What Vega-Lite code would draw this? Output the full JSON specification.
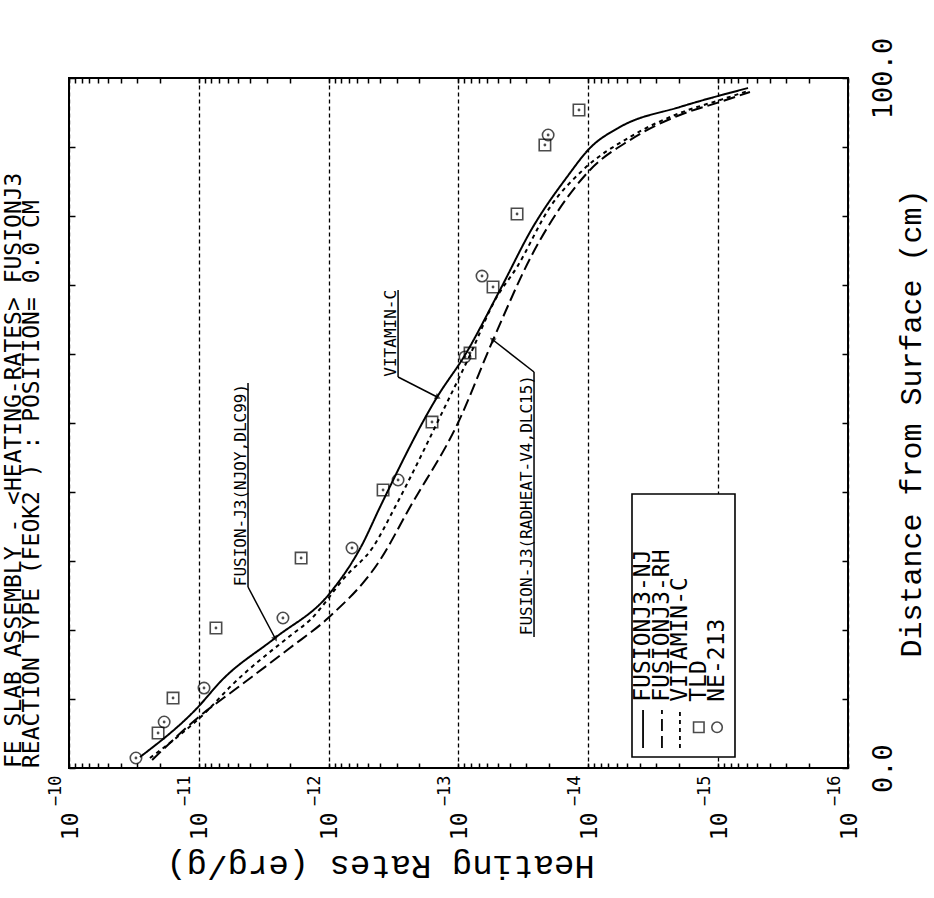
{
  "$schema": "https://vega.github.io/schema/vega-lite/v6.json",
  "autosize": "none",
  "width": 779,
  "height": 690,
  "padding": {"left": 69, "top": 78, "right": 86, "bottom": 130},
  "background": "white",
  "title": {
    "text": ["FE SLAB ASSEMBLY - <HEATING-RATES> FUSIONJ3", " REACTION TYPE (FEOK2 ) : POSITION=   0.0 CM"],
    "orient": "left", "anchor": "start", "frame": "group", "font": "DejaVu Sans Mono", "fontSize": 23,
    "fontWeight": "normal", "lineHeight": 18, "offset": 2, "color": "black"
  },
  "config": {
    "view": {"stroke": "black", "strokeWidth": 2},
    "axis": {"domain": false, "tickColor": "black", "labelColor": "black", "titleColor": "black"}
  },
  "datasets": {
    "curves": [
      {"s": "FUSIONJ3-NJ", "H": 2.84e-11, "d": 1.59},
      {"s": "FUSIONJ3-NJ", "H": 1.03e-11, "d": 8.7},
      {"s": "FUSIONJ3-NJ", "H": 6.63e-12, "d": 12.75},
      {"s": "FUSIONJ3-NJ", "H": 2.59e-12, "d": 18.84},
      {"s": "FUSIONJ3-NJ", "H": 9.77e-13, "d": 25.36},
      {"s": "FUSIONJ3-NJ", "H": 5.54e-13, "d": 32.32},
      {"s": "FUSIONJ3-NJ", "H": 4.02e-13, "d": 37.83},
      {"s": "FUSIONJ3-NJ", "H": 1.46e-13, "d": 53.77},
      {"s": "FUSIONJ3-NJ", "H": 8.91e-14, "d": 59.86},
      {"s": "FUSIONJ3-NJ", "H": 4.79e-14, "d": 69.28},
      {"s": "FUSIONJ3-NJ", "H": 2.67e-14, "d": 78.41},
      {"s": "FUSIONJ3-NJ", "H": 1.46e-14, "d": 85.65},
      {"s": "FUSIONJ3-NJ", "H": 9.71e-15, "d": 89.86},
      {"s": "FUSIONJ3-NJ", "H": 5.70e-15, "d": 92.9},
      {"s": "FUSIONJ3-NJ", "H": 1.97e-15, "d": 95.8},
      {"s": "FUSIONJ3-NJ", "H": 5.89e-16, "d": 98.55},
      {"s": "VITAMIN-C", "H": 2.38e-11, "d": 1.45},
      {"s": "VITAMIN-C", "H": 8.81e-12, "d": 8.12},
      {"s": "VITAMIN-C", "H": 5.55e-12, "d": 12.03},
      {"s": "VITAMIN-C", "H": 1.99e-12, "d": 19.13},
      {"s": "VITAMIN-C", "H": 1.39e-12, "d": 21.45},
      {"s": "VITAMIN-C", "H": 7.48e-13, "d": 27.68},
      {"s": "VITAMIN-C", "H": 4.55e-13, "d": 32.03},
      {"s": "VITAMIN-C", "H": 3.08e-13, "d": 37.83},
      {"s": "VITAMIN-C", "H": 1.20e-13, "d": 53.33},
      {"s": "VITAMIN-C", "H": 8.15e-14, "d": 59.86},
      {"s": "VITAMIN-C", "H": 5.23e-14, "d": 67.83},
      {"s": "VITAMIN-C", "H": 3.54e-14, "d": 72.61},
      {"s": "VITAMIN-C", "H": 1.97e-14, "d": 81.3},
      {"s": "VITAMIN-C", "H": 1.10e-14, "d": 86.67},
      {"s": "VITAMIN-C", "H": 4.78e-15, "d": 91.45},
      {"s": "VITAMIN-C", "H": 1.97e-15, "d": 94.93},
      {"s": "VITAMIN-C", "H": 9.68e-16, "d": 96.81},
      {"s": "VITAMIN-C", "H": 5.89e-16, "d": 98.12},
      {"s": "FUSIONJ3-RH", "H": 2.29e-11, "d": 1.16},
      {"s": "FUSIONJ3-RH", "H": 9.80e-12, "d": 7.54},
      {"s": "FUSIONJ3-RH", "H": 5.08e-12, "d": 11.59},
      {"s": "FUSIONJ3-RH", "H": 1.99e-12, "d": 17.39},
      {"s": "FUSIONJ3-RH", "H": 1.01e-12, "d": 21.74},
      {"s": "FUSIONJ3-RH", "H": 4.02e-13, "d": 30.14},
      {"s": "FUSIONJ3-RH", "H": 2.36e-13, "d": 37.83},
      {"s": "FUSIONJ3-RH", "H": 1.01e-13, "d": 50.0},
      {"s": "FUSIONJ3-RH", "H": 5.42e-14, "d": 62.03},
      {"s": "FUSIONJ3-RH", "H": 2.67e-14, "d": 74.64},
      {"s": "FUSIONJ3-RH", "H": 1.46e-14, "d": 82.61},
      {"s": "FUSIONJ3-RH", "H": 9.71e-15, "d": 86.67},
      {"s": "FUSIONJ3-RH", "H": 4.78e-15, "d": 91.01},
      {"s": "FUSIONJ3-RH", "H": 1.97e-15, "d": 94.64},
      {"s": "FUSIONJ3-RH", "H": 9.68e-16, "d": 96.52},
      {"s": "FUSIONJ3-RH", "H": 5.69e-16, "d": 97.97}
    ],
    "points": [
      {"det": "TLD", "H": 2.06e-11, "d": 5.07},
      {"det": "TLD", "H": 1.58e-11, "d": 10.14},
      {"det": "TLD", "H": 7.38e-12, "d": 20.29},
      {"det": "TLD", "H": 1.63e-12, "d": 30.43},
      {"det": "TLD", "H": 3.81e-13, "d": 40.29},
      {"det": "TLD", "H": 1.60e-13, "d": 50.14},
      {"det": "TLD", "H": 8.15e-14, "d": 60.14},
      {"det": "TLD", "H": 5.42e-14, "d": 69.71},
      {"det": "TLD", "H": 3.54e-14, "d": 80.29},
      {"det": "TLD", "H": 2.16e-14, "d": 90.29},
      {"det": "TLD", "H": 1.18e-14, "d": 95.36},
      {"det": "NE-213", "H": 3.05e-11, "d": 1.45},
      {"det": "NE-213", "H": 1.85e-11, "d": 6.67},
      {"det": "NE-213", "H": 9.12e-12, "d": 11.59},
      {"det": "NE-213", "H": 2.25e-12, "d": 21.74},
      {"det": "NE-213", "H": 6.61e-13, "d": 31.88},
      {"det": "NE-213", "H": 2.92e-13, "d": 41.74},
      {"det": "NE-213", "H": 8.91e-14, "d": 59.57},
      {"det": "NE-213", "H": 6.59e-14, "d": 71.3},
      {"det": "NE-213", "H": 2.04e-14, "d": 91.74}
    ],
    "annText": [
      {"label": "FUSION-J3(NJOY,DLC99)", "H": 4.73e-12, "d": 41.0},
      {"label": "VITAMIN-C", "H": 3.31e-13, "d": 63.0},
      {"label": "FUSION-J3(RADHEAT-V4,DLC15)", "H": 2.97e-14, "d": 38.1}
    ],
    "annLines": [
      {"H": 4.18e-12, "d": 26.23, "H2": 4.18e-12, "d2": 55.8},
      {"H": 4.18e-12, "d": 26.23, "H2": 2.59e-12, "d2": 18.84},
      {"H": 2.92e-13, "d": 56.67, "H2": 2.92e-13, "d2": 69.28},
      {"H": 2.92e-13, "d": 56.67, "H2": 1.46e-13, "d2": 53.77},
      {"H": 2.62e-14, "d": 18.99, "H2": 2.62e-14, "d2": 57.39},
      {"H": 2.62e-14, "d": 57.39, "H2": 5.42e-14, "d2": 62.03}
    ],
    "arrowTips": [
      {"label": "NJOY", "H": 2.59e-12, "d": 18.84},
      {"label": "VITAMIN-C", "H": 1.46e-13, "d": 53.77},
      {"label": "RADHEAT", "H": 5.42e-14, "d": 62.03}
    ],
    "legendBox": [
      {"H": 4.61e-15, "d": 1.6, "H2": 7.42e-16, "d2": 39.7}
    ],
    "legendLines": [
      {"s": "FUSIONJ3-NJ", "H": 3.79e-15, "d": 2.9, "d2": 8.4},
      {"s": "FUSIONJ3-RH", "H": 2.71e-15, "d": 2.9, "d2": 8.4},
      {"s": "VITAMIN-C", "H": 1.97e-15, "d": 2.9, "d2": 8.4}
    ],
    "legendSym": [
      {"det": "TLD", "H": 1.41e-15, "d": 5.9},
      {"det": "NE-213", "H": 1.02e-15, "d": 5.9}
    ],
    "legendText": [
      {"label": "FUSIONJ3-NJ", "H": 3.79e-15, "d": 9.6},
      {"label": "FUSIONJ3-RH", "H": 2.71e-15, "d": 9.6},
      {"label": "VITAMIN-C", "H": 1.97e-15, "d": 9.6},
      {"label": "TLD", "H": 1.41e-15, "d": 9.6},
      {"label": "NE-213", "H": 1.02e-15, "d": 9.6}
    ]
  },
  "encoding": {
    "x": {"field": "H", "type": "quantitative", "scale": {"type": "log", "domain": [1e-16, 1e-10], "reverse": true, "nice": false}, "axis": null},
    "y": {"field": "d", "type": "quantitative", "scale": {"domain": [0, 100], "nice": false, "zero": false}, "axis": null}
  },
  "layer": [
    {
      "data": {"name": "curves"},
      "mark": {"type": "line", "color": "black", "strokeWidth": 2, "interpolate": "monotone"},
      "encoding": {
        "x": {
          "field": "H", "type": "quantitative",
          "scale": {"type": "log", "domain": [1e-16, 1e-10], "reverse": true, "nice": false},
          "axis": {
            "orient": "bottom",
            "values": [1e-16,2e-16,3e-16,4e-16,5e-16,6e-16,7e-16,8e-16,9e-16,1e-15,2e-15,3e-15,4e-15,5e-15,6e-15,7e-15,8e-15,9e-15,1e-14,2e-14,3e-14,4e-14,5e-14,6e-14,7e-14,8e-14,9e-14,1e-13,2e-13,3e-13,4e-13,5e-13,6e-13,7e-13,8e-13,9e-13,1e-12,2e-12,3e-12,4e-12,5e-12,6e-12,7e-12,8e-12,9e-12,1e-11,2e-11,3e-11,4e-11,5e-11,6e-11,7e-11,8e-11,9e-11,1e-10],
            "labelExpr": "abs(log(datum.value)/LN10 - round(log(datum.value)/LN10)) < 0.01 ? '10' : ''",
            "labelAngle": -90, "labelAlign": "right", "labelBaseline": "middle",
            "labelFont": "DejaVu Sans Mono", "labelFontSize": 23, "labelOffset": 1,
            "labelPadding": 49, "labelOverlap": false, "labelFlush": false, "labelBound": false,
            "tickSize": -5, "tickWidth": 1.5,
            "grid": true, "gridColor": "black", "gridDash": [4, 3], "gridWidth": 1.3,
            "gridOpacity": {"condition": {"test": "abs(log(datum.value)/LN10 - round(log(datum.value)/LN10)) < 0.01", "value": 1}, "value": 0},
            "title": "Heating Rates (erg/g)", "titleFont": "Liberation Mono", "titleFontSize": 34,
            "titleFontWeight": "normal", "titleAngle": 180, "titleX": 311, "titleY": 97,
            "titleAlign": "center", "titleBaseline": "middle"
          }
        },
        "y": {
          "field": "d", "type": "quantitative",
          "scale": {"domain": [0, 100], "nice": false, "zero": false},
          "axis": {
            "orient": "left", "values": [0,10,20,30,40,50,60,70,80,90,100],
            "labels": false, "tickSize": -6, "tickWidth": 1.5, "grid": false, "title": null
          }
        },
        "strokeDash": {
          "field": "s", "type": "nominal",
          "scale": {"domain": ["FUSIONJ3-NJ", "FUSIONJ3-RH", "VITAMIN-C"], "range": [[1, 0], [12, 5], [4, 4]]},
          "legend": null
        },
        "order": {"field": "d"}
      }
    },
    {
      "data": {"name": "points"},
      "mark": {"type": "point", "filled": false, "stroke": "black", "strokeWidth": 1.6, "size": 130},
      "encoding": {
        "x": {
          "field": "H", "type": "quantitative",
          "scale": {"type": "log", "domain": [1e-16, 1e-10], "reverse": true, "nice": false},
          "axis": {
            "orient": "top",
            "values": [1e-16,2e-16,3e-16,4e-16,5e-16,6e-16,7e-16,8e-16,9e-16,1e-15,2e-15,3e-15,4e-15,5e-15,6e-15,7e-15,8e-15,9e-15,1e-14,2e-14,3e-14,4e-14,5e-14,6e-14,7e-14,8e-14,9e-14,1e-13,2e-13,3e-13,4e-13,5e-13,6e-13,7e-13,8e-13,9e-13,1e-12,2e-12,3e-12,4e-12,5e-12,6e-12,7e-12,8e-12,9e-12,1e-11,2e-11,3e-11,4e-11,5e-11,6e-11,7e-11,8e-11,9e-11,1e-10],
            "labels": false, "tickSize": -5, "tickWidth": 1.5, "grid": false, "title": null
          }
        },
        "y": {
          "field": "d", "type": "quantitative",
          "scale": {"domain": [0, 100], "nice": false, "zero": false},
          "axis": {
            "orient": "right", "values": [0,10,20,30,40,50,60,70,80,90,100],
            "labelExpr": "datum.value == 0 ? '0.0' : datum.value == 100 ? '100.0' : ''",
            "labelAngle": -90, "labelAlign": "center", "labelBaseline": "top",
            "labelFont": "DejaVu Sans Mono", "labelFontSize": 27, "labelPadding": 28,
            "labelOverlap": false, "labelFlush": false, "labelBound": false,
            "tickSize": -6, "tickWidth": 1.5, "grid": false,
            "title": "Distance from Surface (cm)", "titleFont": "Liberation Mono", "titleFontSize": 30,
            "titleFontWeight": "normal", "titleAngle": -90, "titleX": 63, "titleY": 345,
            "titleAlign": "center", "titleBaseline": "middle"
          }
        },
        "shape": {"field": "det", "type": "nominal", "scale": {"domain": ["TLD", "NE-213"], "range": ["square", "circle"]}, "legend": null}
      }
    },
    {
      "data": {"name": "points"},
      "mark": {"type": "point", "filled": true, "color": "black", "size": 8, "shape": "circle"},
      "encoding": {
        "x": {
          "field": "H", "type": "quantitative",
          "scale": {"type": "log", "domain": [1e-16, 1e-10], "reverse": true, "nice": false},
          "axis": {
            "orient": "bottom",
            "values": [1e-16, 1e-15, 1e-14, 1e-13, 1e-12, 1e-11, 1e-10],
            "labelExpr": "'−' + round(-log(datum.value)/LN10)",
            "labelAngle": -90, "labelAlign": "right", "labelBaseline": "middle",
            "labelFont": "DejaVu Sans Mono", "labelFontSize": 17, "labelOffset": -14,
            "labelPadding": 7, "labelOverlap": false, "labelFlush": false, "labelBound": false,
            "ticks": false, "grid": false, "title": null
          }
        }
      }
    },
    {
      "data": {"name": "annText"},
      "mark": {"type": "text", "angle": -90, "align": "center", "baseline": "middle", "font": "DejaVu Sans Mono", "fontSize": 16, "color": "black"},
      "encoding": {"text": {"field": "label"}}
    },
    {
      "data": {"name": "annLines"},
      "mark": {"type": "rule", "color": "black", "strokeWidth": 1.5},
      "encoding": {"x2": {"field": "H2"}, "y2": {"field": "d2"}}
    },
    {
      "data": {"name": "arrowTips"},
      "transform": [{"filter": "datum.label == 'NJOY'"}],
      "mark": {"type": "point", "shape": "triangle", "filled": true, "color": "black", "size": 45, "angle": 152}
    },
    {
      "data": {"name": "arrowTips"},
      "transform": [{"filter": "datum.label == 'VITAMIN-C'"}],
      "mark": {"type": "point", "shape": "triangle", "filled": true, "color": "black", "size": 45, "angle": 117}
    },
    {
      "data": {"name": "arrowTips"},
      "transform": [{"filter": "datum.label == 'RADHEAT'"}],
      "mark": {"type": "point", "shape": "triangle", "filled": true, "color": "black", "size": 45, "angle": 306}
    },
    {
      "data": {"name": "legendBox"},
      "mark": {"type": "rect", "fill": "white", "stroke": "black", "strokeWidth": 1.6},
      "encoding": {"x2": {"field": "H2"}, "y2": {"field": "d2"}}
    },
    {
      "data": {"name": "legendLines"},
      "mark": {"type": "rule", "color": "black", "strokeWidth": 1.8},
      "encoding": {
        "y2": {"field": "d2"},
        "strokeDash": {
          "field": "s", "type": "nominal",
          "scale": {"domain": ["FUSIONJ3-NJ", "FUSIONJ3-RH", "VITAMIN-C"], "range": [[1, 0], [12, 5], [4, 4]]},
          "legend": null
        }
      }
    },
    {
      "data": {"name": "legendSym"},
      "mark": {"type": "point", "filled": false, "stroke": "black", "strokeWidth": 1.6, "size": 110},
      "encoding": {
        "shape": {"field": "det", "type": "nominal", "scale": {"domain": ["TLD", "NE-213"], "range": ["square", "circle"]}, "legend": null}
      }
    },
    {
      "data": {"name": "legendText"},
      "mark": {"type": "text", "angle": -90, "align": "left", "baseline": "middle", "font": "DejaVu Sans Mono", "fontSize": 23, "color": "black"},
      "encoding": {"text": {"field": "label"}}
    }
  ],
  "resolve": {"axis": {"x": "independent", "y": "independent"}}
}
